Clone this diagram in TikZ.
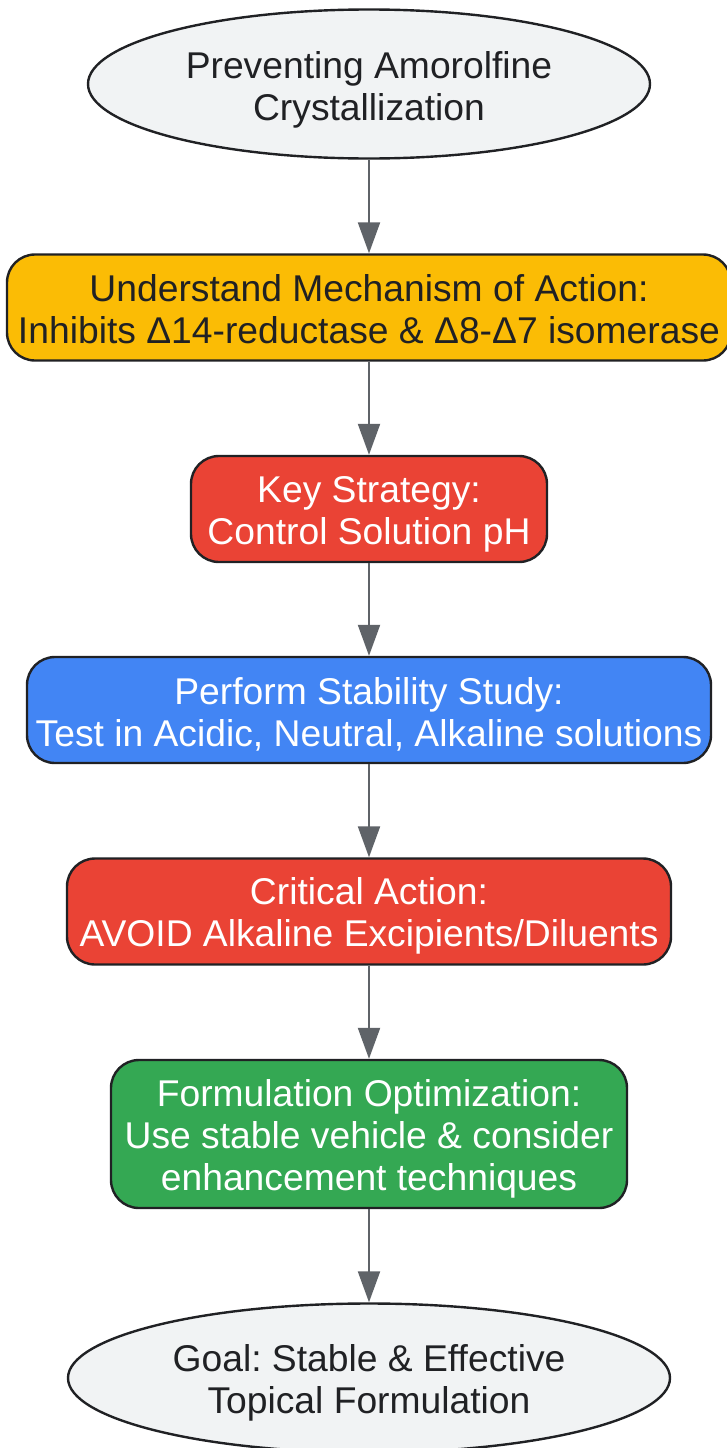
\documentclass[tikz,border=0pt]{standalone}
\usepackage{fontspec}
\setmainfont{Liberation Sans}
\usetikzlibrary{shapes.geometric,arrows.meta}
\definecolor{ink}{HTML}{202124}
\definecolor{pale}{HTML}{F1F3F4}
\definecolor{amber}{HTML}{FBBC05}
\definecolor{redb}{HTML}{EA4335}
\definecolor{blueb}{HTML}{4285F4}
\definecolor{greenb}{HTML}{34A853}
\definecolor{edgec}{HTML}{5F6368}
\frenchspacing
\newcommand\dn[2]{\raisebox{-#1pt}[\height][\depth]{#2}}
\tikzset{x=1pt,y=-1pt,
 base/.style={draw=ink,line width=2.4pt,align=center,inner sep=0pt,font=\fontsize{37.25}{42}\selectfont},
 oval/.style={base,ellipse,fill=pale,text=ink},
 rbox/.style={base,rounded corners=28pt},
 conn/.style={draw=edgec,line width=2.2pt,-{Triangle[length=31pt,width=22pt]}}}
\begin{document}
\begin{tikzpicture}
\useasboundingbox (0,0) rectangle (727,1448);
\node[oval,minimum width=562pt,minimum height=149pt] (a) at (369,84) {\dn{5.5}{Preventing Amorolfine}\\\dn{5.5}{Crystallization}};
\node[rbox,fill=amber,text=ink,minimum width=724pt,minimum height=106pt] (b) at (369,307.5) {\dn{2}{Understand Mechanism of Action:}\\\dn{2}{Inhibits Δ14-reductase \& Δ8-Δ7 isomerase}};
\node[rbox,fill=redb,text=white,minimum width=356pt,minimum height=106pt] (c) at (369,509) {\dn{5}{Key Strategy:}\\\dn{5}{Control Solution pH}};
\node[rbox,fill=blueb,text=white,minimum width=684pt,minimum height=106pt] (d) at (369,710) {\dn{4}{Perform Stability Study:}\\\dn{4}{Test in Acidic, Neutral, Alkaline solutions}};
\node[rbox,fill=redb,text=white,minimum width=604pt,minimum height=106pt] (e) at (369,911.5) {\dn{4.5}{Critical Action:}\\\dn{4.5}{AVOID Alkaline Excipients/Diluents}};
\node[rbox,fill=greenb,text=white,minimum width=516pt,minimum height=148pt] (f) at (369,1134) {\dn{5}{Formulation Optimization:}\\\dn{5}{Use stable vehicle \& consider}\\\dn{5}{enhancement techniques}};
\node[oval,minimum width=602pt,minimum height=149pt] (g) at (369,1378) {\dn{5}{Goal: Stable \& Effective}\\\dn{5}{Topical Formulation}};
\draw[conn] (a) -- (b);
\draw[conn] (b) -- (c);
\draw[conn] (c) -- (d);
\draw[conn] (d) -- (e);
\draw[conn] (e) -- (f);
\draw[conn] (f) -- (g);
\end{tikzpicture}
\end{document}
